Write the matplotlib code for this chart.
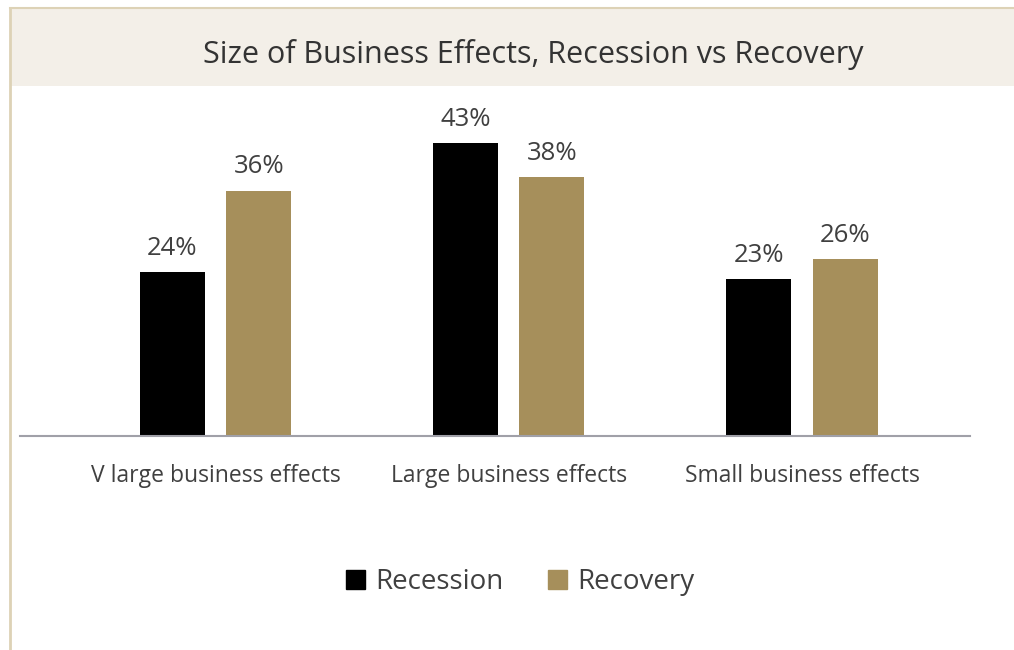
import matplotlib.pyplot as plt
from matplotlib.patches import Rectangle, Patch
from matplotlib.lines import Line2D

categories = ["V large business effects", "Large business effects", "Small business effects"]
recession = [24, 43, 23]
recovery = [36, 38, 26]
series_names = ["Recession", "Recovery"]

BLACK = "#000000"
GOLD = "#a68f5b"
TEXT = "#404040"
BAND = "#f3efe8"
EDGE = "#ddd2b6"

plt.rcParams['font.family'] = ['Open Sans', 'DejaVu Sans']

W, H = 1014, 650
fig = plt.figure(figsize=(W / 100, H / 100), dpi=100)
fig.patch.set_facecolor("white")

# title band and frame lines along the top and left edges
fig.patches.append(Rectangle((10 / W, 1 - 86 / H), 1 - 10 / W, 78 / H,
                             transform=fig.transFigure, facecolor=BAND,
                             edgecolor="none", zorder=0))
fig.add_artist(Line2D([10 / W, 1], [1 - 8 / H, 1 - 8 / H], color=EDGE, lw=1.5))
fig.add_artist(Line2D([10 / W, 10 / W], [0, 1 - 8 / H], color=EDGE, lw=2))
fig.text(533 / W, 1 - 54 / H, "Size of Business Effects, Recession vs Recovery",
         ha="center", va="center", fontsize=22, color="#333333")

ax = fig.add_axes([20 / W, (H - 436) / H, 950 / W, 346 / H])
x = range(len(categories))
off, width = 0.147, 0.222
b1 = ax.bar([i - off for i in x], recession, width, color=BLACK)
b2 = ax.bar([i + off for i in x], recovery, width, color=GOLD)

for bars, vals in ((b1, recession), (b2, recovery)):
    for b, v in zip(bars, vals):
        ax.annotate(f"{v}%", (b.get_x() + b.get_width() / 2, v),
                    xytext=(0, 8), textcoords="offset points",
                    ha="center", va="bottom", fontsize=18.5, color=TEXT)

ax.set_xlim(-0.667, 2.573)
ax.set_ylim(0, 50.75)
ax.set_xticks(list(x))
ax.set_xticklabels(categories, fontsize=16.5, color=TEXT)
ax.tick_params(axis="x", length=0, pad=20)
ax.set_yticks([])
for s in ("top", "right", "left"):
    ax.spines[s].set_visible(False)
ax.spines["bottom"].set_color("#a0a0a8")
ax.spines["bottom"].set_linewidth(1.5)
ax.patch.set_alpha(0)

handles = [Patch(color=BLACK), Patch(color=GOLD)]
fig.legend(handles, series_names, loc="center", bbox_to_anchor=(520 / W, 1 - 582 / H),
           ncol=2, frameon=False, fontsize=20, labelcolor=TEXT,
           handlelength=0.7, handleheight=0.7, handletextpad=0.35, columnspacing=1.6)

fig.savefig("out.png", dpi=100)
